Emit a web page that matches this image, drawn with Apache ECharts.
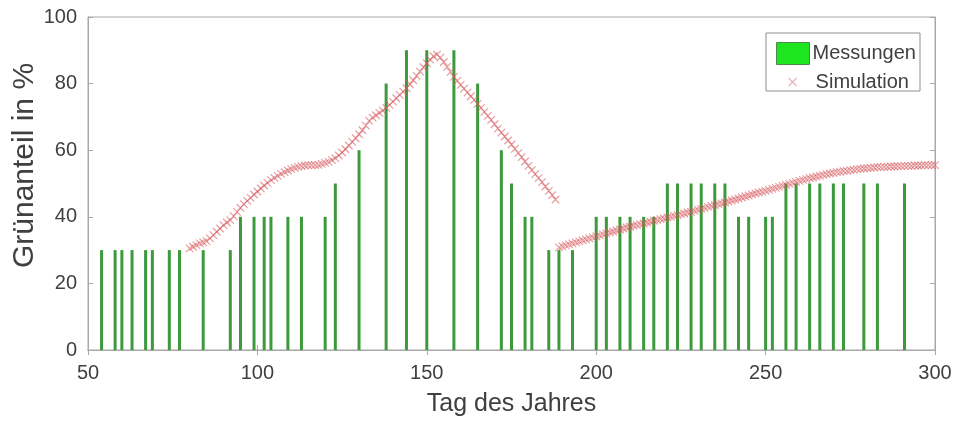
<!DOCTYPE html>
<html>
<head>
<meta charset="utf-8">
<script src="https://cdn.jsdelivr.net/npm/echarts@6/dist/echarts.min.js"></script>
<style>
  html, body { margin: 0; padding: 0; background: #fff; }
  #chart { width: 955px; height: 421px; }
</style>
</head>
<body>
<div id="chart"></div>
<script>
// Messungen: Tag des Jahres und Grünanteil
var measDays = [54, 58, 60, 63, 67, 69, 74, 77, 84, 92, 95, 99, 102, 104, 109, 113, 120, 123, 130,
  138, 144, 150, 158, 165, 172, 175, 179, 181, 186, 189, 193, 200, 203, 207, 210, 214, 217,
  221, 224, 228, 231, 235, 238, 242, 245, 250, 252, 256, 259, 263, 266, 270, 273, 279, 283, 291];
var measValues = [30, 30, 30, 30, 30, 30, 30, 30, 30, 30, 40, 40, 40, 40, 40, 40, 40, 50, 60,
  80, 90, 90, 90, 80, 60, 50, 40, 40, 30, 30, 30, 40, 40, 40, 40, 40, 40,
  50, 50, 50, 50, 50, 50, 40, 40, 40, 40, 50, 50, 50, 50, 50, 50, 50, 50, 50];

// Simulation, erster Abschnitt ab Tag 80 (ein Wert pro Tag)
var simStart1 = 80;
var simValues1 = [30.5, 31, 31.5, 32, 32.3, 32.7, 33.5, 34.5, 35.5, 36.5,
  37.5, 38.3, 39, 40.2, 41.5, 42.7, 43.8, 44.8, 45.7, 46.7,
  47.6, 48.5, 49.4, 50.2, 51, 51.7, 52.3, 52.9, 53.4, 53.9,
  54.3, 54.7, 55, 55.2, 55.4, 55.5, 55.5, 55.5, 55.6, 55.9,
  56.2, 56.5, 57, 57.6, 58.4, 59.3, 60.3, 61.4, 62.5, 63.6,
  64.8, 66, 67.4, 68.8, 69.8, 70.5, 71.2, 71.9, 72.7, 73.6,
  74.6, 75.6, 76.6, 77.6, 78.6, 79.8, 81, 82.3, 83.6, 84.9,
  86.1, 87.2, 88.2, 88.7, 87.8, 86.5, 85, 83.5, 82, 80.8,
  79.6, 78.5, 77.3, 76.2, 75.1, 73.9, 72.7, 71.5, 70.3, 69.1,
  67.8, 66.5, 65.3, 64.1, 62.9, 61.7, 60.4, 59.1, 57.9, 56.6,
  55.3, 54, 52.8, 51.6, 50.4, 49.1, 47.8, 46.5, 45.2];

// Simulation, zweiter Abschnitt ab Tag 189
var simStart2 = 189;
var simValues2 = [30.8, 31.1, 31.4, 31.7, 32, 32.3, 32.6, 32.9, 33.2, 33.5,
  33.8, 34.1, 34.4, 34.7, 35, 35.3, 35.6, 35.9, 36.2, 36.5,
  36.8, 37, 37.3, 37.5, 37.8, 38, 38.3, 38.5, 38.8, 39,
  39.3, 39.5, 39.8, 40, 40.3, 40.5, 40.8, 41, 41.3, 41.5,
  41.8, 42.1, 42.4, 42.7, 43, 43.2, 43.5, 43.8, 44, 44.3,
  44.6, 44.9, 45.2, 45.5, 45.8, 46.1, 46.4, 46.7, 47, 47.3,
  47.5, 47.8, 48.1, 48.4, 48.7, 49, 49.3, 49.6, 49.9, 50.2,
  50.5, 50.8, 51.1, 51.3, 51.6, 51.8, 52.1, 52.3, 52.6, 52.8,
  53, 53.2, 53.4, 53.5, 53.7, 53.8, 54, 54.1, 54.3, 54.4,
  54.5, 54.6, 54.7, 54.8, 54.9, 54.9, 55, 55, 55.1, 55.1,
  55.2, 55.2, 55.3, 55.3, 55.3, 55.4, 55.4, 55.4, 55.5, 55.5,
  55.5, 55.5];

var xTicks = [50, 100, 150, 200, 250, 300];
var yTicks = [0, 20, 40, 60, 80, 100];

var barData = [];
for (var i = 0; i < measDays.length; i++) {
  barData.push([measDays[i], measValues[i]]);
}
var simData = [];
for (var j = 0; j < simValues1.length; j++) {
  simData.push([simStart1 + j, simValues1[j]]);
}
for (var k = 0; k < simValues2.length; k++) {
  simData.push([simStart2 + k, simValues2[k]]);
}

var font = '"Liberation Sans", Arial, sans-serif';
var textColor = '#404040';
var boxColor = '#a8a8a8';
var crossPath = 'path://M0,0L10,10M10,0L0,10';

var chart = echarts.init(document.getElementById('chart'), null, { renderer: 'canvas' });

function axisCommon(show, margin) {
  return {
    axisLine: { show: true, lineStyle: { color: boxColor, width: 1 } },
    axisTick: { show: true, inside: true, length: 5, lineStyle: { color: boxColor } },
    splitLine: { show: false },
    axisLabel: { show: show, color: textColor, fontSize: 20, fontFamily: font, margin: margin }
  };
}

var option = {
  backgroundColor: '#fff',
  animation: false,
  textStyle: { fontFamily: font },
  grid: {
    left: 88,
    right: 20,
    top: 17,
    bottom: 71,
    outerBoundsMode: 'none',
    show: true,
    borderColor: boxColor,
    borderWidth: 1
  },
  graphic: [{
    type: 'rect',
    z: 3,
    shape: { x: 766, y: 33, width: 154, height: 58 },
    style: { fill: '#fff', stroke: '#8f8f8f', lineWidth: 1 }
  }],
  legend: [{
    z: 5,
    left: 771,
    top: 37,
    itemWidth: 33,
    itemHeight: 22,
    textStyle: { color: textColor, fontSize: 20, fontFamily: font, padding: [0, 0, 0, -2] },
    data: [{
      name: 'Messungen',
      icon: 'rect',
      itemStyle: { color: '#1ee61e', borderColor: '#4a8a4a', borderWidth: 1 }
    }]
  }, {
    z: 5,
    left: 783,
    top: 67,
    itemWidth: 8,
    itemHeight: 8,
    textStyle: { color: textColor, fontSize: 20, fontFamily: font, padding: [0, 0, 0, 14] },
    data: [{
      name: 'Simulation',
      icon: crossPath,
      itemStyle: { color: 'transparent', borderColor: '#e0a0a8', borderWidth: 1.2 }
    }]
  }],
  xAxis: [
    Object.assign({
      type: 'value',
      min: xTicks[0],
      max: xTicks[xTicks.length - 1],
      interval: 50,
      name: 'Tag des Jahres',
      nameLocation: 'middle',
      nameMoveOverlap: false,
      nameGap: 42,
      nameTextStyle: { color: textColor, fontSize: 25, fontFamily: font }
    }, axisCommon(true, 13)),
    Object.assign({
      type: 'value',
      position: 'top',
      min: xTicks[0],
      max: xTicks[xTicks.length - 1],
      interval: 50
    }, axisCommon(false, 8))
  ],
  yAxis: [
    Object.assign({
      type: 'value',
      min: yTicks[0],
      max: yTicks[yTicks.length - 1],
      interval: 20,
      name: 'Grünanteil in %',
      nameLocation: 'middle',
      nameMoveOverlap: false,
      nameGap: 48,
      nameTextStyle: { color: textColor, fontSize: 30, fontFamily: font, padding: [0, 0, 0, 36] }
    }, axisCommon(true, 11)),
    Object.assign({
      type: 'value',
      position: 'right',
      min: yTicks[0],
      max: yTicks[yTicks.length - 1],
      interval: 20
    }, axisCommon(false, 8))
  ],
  series: [{
    name: 'Messungen',
    type: 'bar',
    xAxisIndex: 0,
    yAxisIndex: 0,
    barWidth: 3,
    itemStyle: { color: '#3c9a3c' },
    data: barData,
    z: 2
  }, {
    name: 'Simulation',
    type: 'scatter',
    xAxisIndex: 0,
    yAxisIndex: 0,
    symbol: crossPath,
    symbolSize: 7.5,
    itemStyle: { color: 'transparent', borderColor: 'rgba(214, 90, 95, 0.75)', borderWidth: 1.2 },
    data: simData,
    z: 3
  }]
};

chart.setOption(option);
</script>
</body>
</html>
